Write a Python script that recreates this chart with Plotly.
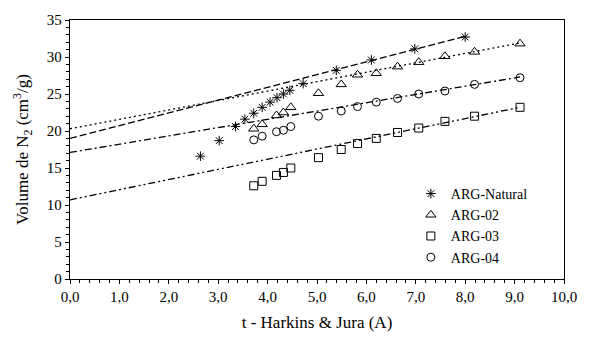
import plotly.graph_objects as go

# ---- data ----
nat_t = [2.64, 3.02, 3.35, 3.54, 3.72, 3.89, 4.05, 4.19, 4.32, 4.45, 4.72, 5.39, 6.10, 6.98, 8.00]
nat_v = [16.6, 18.7, 20.6, 21.6, 22.4, 23.2, 23.9, 24.5, 25.0, 25.5, 26.4, 28.2, 29.6, 31.1, 32.7]

t_common = [3.72, 3.89, 4.18, 4.32, 4.47, 5.03, 5.49, 5.82, 6.20, 6.63, 7.06, 7.59, 8.19, 9.11]
arg02_v = [20.3, 20.9, 22.1, 22.5, 23.2, 25.1, 26.3, 27.6, 27.8, 28.7, 29.3, 30.1, 30.7, 31.8]
arg03_v = [12.6, 13.2, 14.0, 14.4, 15.0, 16.4, 17.5, 18.3, 19.0, 19.8, 20.4, 21.3, 22.0, 23.2]
arg04_v = [18.8, 19.3, 19.9, 20.1, 20.6, 22.0, 22.7, 23.3, 23.9, 24.4, 25.0, 25.4, 26.3, 27.2]

# fitted straight lines (start / end values)
nat_fit_t = [0.0, 8.0]
nat_fit_v = [19.0, 32.8]
arg02_fit_t = [0.0, 9.11]
arg02_fit_v = [20.3, 31.9]
arg03_fit_t = [0.0, 9.11]
arg03_fit_v = [10.7, 23.2]
arg04_fit_t = [0.0, 9.11]
arg04_fit_v = [17.1, 27.3]

names = ["ARG-Natural", "ARG-02", "ARG-03", "ARG-04"]
x_ticks = [0, 1, 2, 3, 4, 5, 6, 7, 8, 9, 10]
x_tick_text = ["0,0", "1,0", "2,0", "3,0", "4,0", "5,0", "6,0", "7,0", "8,0", "9,0", "10,0"]
y_ticks = [0, 5, 10, 15, 20, 25, 30, 35]

FONT = "Liberation Serif, Times New Roman, serif"
fig = go.Figure()

# fit lines
for ft, fv, dash in [
    (nat_fit_t, nat_fit_v, "7px,3px"),
    (arg02_fit_t, arg02_fit_v, "2px,3px"),
    (arg03_fit_t, arg03_fit_v, "7px,3px,2px,3px,2px,3px"),
    (arg04_fit_t, arg04_fit_v, "7px,3px,2px,3px"),
]:
    fig.add_trace(go.Scatter(x=ft, y=fv, mode="lines", showlegend=False,
                             line=dict(color="black", width=1.3, dash=dash),
                             hoverinfo="skip"))

# markers
for xs, ys, name, sym, size in [
    (nat_t, nat_v, names[0], "asterisk-open", 8),
    (t_common, arg02_v, names[1], "triangle-up-open", 9),
    (t_common, arg03_v, names[2], "square-open", 8),
    (t_common, arg04_v, names[3], "circle-open", 8),
]:
    fig.add_trace(go.Scatter(x=xs, y=ys, mode="markers", name=name,
                             marker=dict(symbol=sym, size=size, color="black",
                                         line=dict(color="black", width=1))))

fig.update_layout(
    width=589, height=340,
    margin=dict(l=70, r=15, t=15, b=60),
    paper_bgcolor="white", plot_bgcolor="white",
    font=dict(family=FONT, size=15, color="black"),
    legend=dict(x=0.69, y=0.39, xanchor="left", yanchor="top",
                bgcolor="rgba(0,0,0,0)", font=dict(family=FONT, size=14),
                itemwidth=30, tracegroupgap=0),
    showlegend=True,
)
fig.update_xaxes(
    range=[0, 10], tickvals=x_ticks, ticktext=x_tick_text,
    showgrid=False, zeroline=False,
    showline=True, linecolor="black", linewidth=1.3, mirror=True,
    ticks="outside", ticklen=4, tickcolor="black",
    minor=dict(dtick=0.2, ticks="outside", ticklen=3, tickcolor="black"),
    title=dict(text="t - Harkins &amp; Jura (A)", font=dict(family=FONT, size=17), standoff=11),
    tickfont=dict(family=FONT, size=15),
)
fig.update_yaxes(
    range=[0, 35], tickvals=y_ticks,
    showgrid=False, zeroline=False,
    showline=True, linecolor="black", linewidth=1.3, mirror=True,
    ticks="outside", ticklen=4, tickcolor="black",
    minor=dict(dtick=1, ticks="outside", ticklen=3, tickcolor="black"),
    title=dict(text="Volume de N<sub>2</sub> (cm<sup>3</sup>/g)", font=dict(family=FONT, size=17), standoff=13),
    tickfont=dict(family=FONT, size=15),
)

fig.write_html("out.html")
